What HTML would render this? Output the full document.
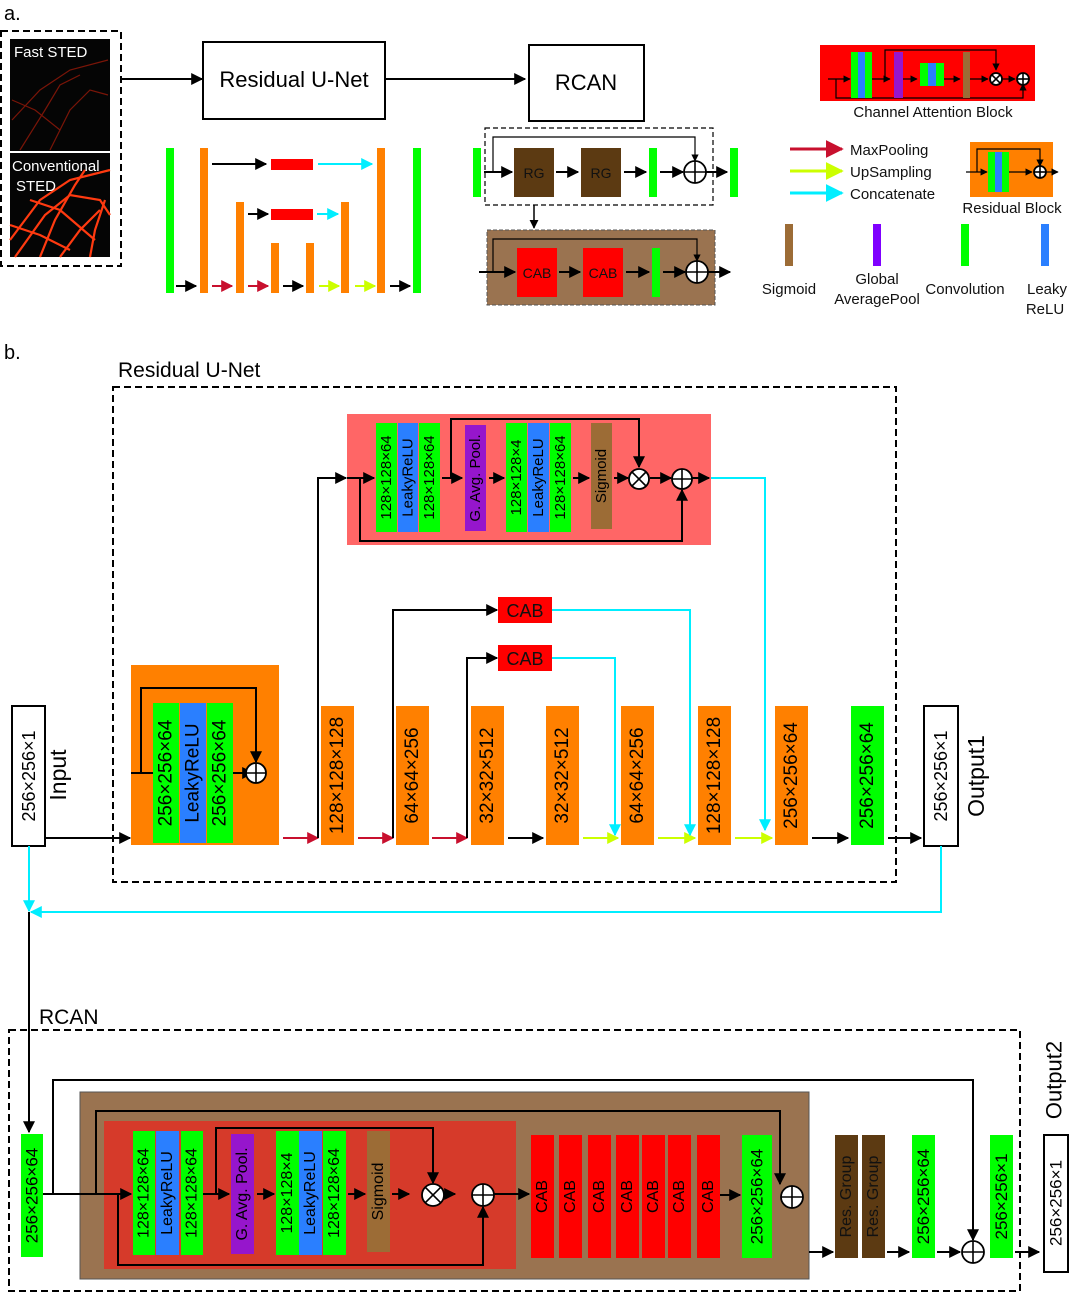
<!DOCTYPE html>
<html><head><meta charset="utf-8"><style>
html,body{margin:0;padding:0;background:#fff;}
svg{display:block;font-family:"Liberation Sans",sans-serif;}
</style></head><body>
<svg id="s" width="1069" height="1294" viewBox="0 0 1069 1294" xmlns="http://www.w3.org/2000/svg">
<defs>
<marker id="mk" viewBox="0 0 10 10" refX="9" refY="5" markerWidth="6" markerHeight="6" orient="auto" markerUnits="strokeWidth"><path d="M0,0L10,5L0,10z" fill="#000"/></marker>
<marker id="mr" viewBox="0 0 10 10" refX="9" refY="5" markerWidth="6" markerHeight="6" orient="auto" markerUnits="strokeWidth"><path d="M0,0L10,5L0,10z" fill="#c8102e"/></marker>
<marker id="my" viewBox="0 0 10 10" refX="9" refY="5" markerWidth="6" markerHeight="6" orient="auto" markerUnits="strokeWidth"><path d="M0,0L10,5L0,10z" fill="#ccff00"/></marker>
<marker id="mc" viewBox="0 0 10 10" refX="9" refY="5" markerWidth="6" markerHeight="6" orient="auto" markerUnits="strokeWidth"><path d="M0,0L10,5L0,10z" fill="#00eeff"/></marker>
</defs>
</svg>
<script>
const S=document.getElementById('s');
const NS='http://www.w3.org/2000/svg';
const COL={k:'#000',r:'#c8102e',y:'#ccff00',c:'#00eeff'};
const G='#00ff00',B='#2a7fff',O='#ff8000',R='#ff0000',P='#9616cc',SG='#9c6c36',BR='#5c3a12',TAN='#9a7350';
function mk(tag,attrs,name){const e=document.createElementNS(NS,tag);for(const k in attrs)e.setAttribute(k,attrs[k]);


S.appendChild(e);return e;}
function rect(x,y,w,h,fill,name,stroke,sw,dash){const a={x:x,y:y,width:w,height:h,fill:fill};if(stroke){a.stroke=stroke;a['stroke-width']=sw||1;}if(dash)a['stroke-dasharray']=dash;return mk('rect',a,name);}
function txt(x,y,s,size,name,fill,anchor){const e=mk('text',{x:x,y:y,'font-size':size,fill:fill||'#000','text-anchor':anchor||'start'},name);e.textContent=s;return e;}
function vtxt(cx,cy,s,size,name,fill){const e=mk('text',{x:0,y:0,'font-size':size,fill:fill||'#000','text-anchor':'middle','dominant-baseline':'central',transform:'translate('+cx+','+cy+') rotate(-90)'},name);e.textContent=s;return e;}
function ln(pts,c,arrow,name,w){const a={points:pts.map(p=>p.join(',')).join(' '),fill:'none',stroke:COL[c],'stroke-width':w||2};if(arrow)a['marker-end']='url(#m'+c+')';return mk('polyline',a,name);}
function circ(cx,cy,r,type,name){mk('circle',{cx:cx,cy:cy,r:r,fill:'#fff',stroke:'#000','stroke-width':1.8},name);
 if(type==='plus'){mk('line',{x1:cx-r,y1:cy,x2:cx+r,y2:cy,stroke:'#000','stroke-width':1.6},name+'-h');mk('line',{x1:cx,y1:cy-r,x2:cx,y2:cy+r,stroke:'#000','stroke-width':1.6},name+'-v');}
 else{const d=r*0.7;mk('line',{x1:cx-d,y1:cy-d,x2:cx+d,y2:cy+d,stroke:'#000','stroke-width':1.6},name+'-d1');mk('line',{x1:cx-d,y1:cy+d,x2:cx+d,y2:cy-d,stroke:'#000','stroke-width':1.6},name+'-d2');}}
function bar(x,y,w,h,fill,label,size,name,tc){rect(x,y,w,h,fill,name);if(label)vtxt(x+w/2,y+h/2,label,size,name+'-label',tc);}

/* ===== Part a ===== */
txt(4,20,'a.',20,'panel-a-label');
rect(1,31,120,235,'none','input-images-box','#000',2,'7,4');
rect(10,39,100,112,'#050505','fast-sted-image');
rect(10,153,100,104,'#050505','conventional-sted-image');
const strands1=[[[12,120],[40,90],[70,70],[108,60]],[[20,150],[45,110],[60,85],[80,75]],[[50,150],[70,110],[90,90],[108,95]],[[12,100],[35,110],[60,130]]];
strands1.forEach((p,i)=>ln(p,'r',false,'fast-sted-strand',1.2).setAttribute('stroke','#7a1508'));
const strands2=[[[10,240],[40,200],[70,180],[110,170]],[[15,257],[45,215],[70,195],[100,200],[110,215]],[[40,257],[55,220],[75,185],[85,170]],[[60,257],[80,230],[100,210]],[[10,225],[40,235],[70,250]],[[90,257],[95,230],[105,200]],[[30,200],[60,210],[95,240]]];
strands2.forEach(p=>ln(p,'r',false,'conventional-sted-strand',2.2).setAttribute('stroke','#ff3a10'));
txt(14,57,'Fast STED',15,'fast-sted-title','#fff');
txt(12,171,'Conventional',15,'conventional-title','#fff');
txt(16,191,'STED',15,'sted-title','#fff');
ln([[121,79],[202,79]],'k',true,'arrow-to-unet');
rect(203,42,182,77,'#fff','residual-unet-box','#000',2);
txt(294,87,'Residual U-Net',22,'residual-unet-title','#000','middle');
ln([[385,79],[525,79]],'k',true,'arrow-to-rcan');
rect(529,45,115,76,'#fff','rcan-box','#000',2);
txt(586,90,'RCAN',22,'rcan-title','#000','middle');
/* mini unet */
bar(166,148,8,145,G,null,0,'mini-conv-in');
bar(200,148,8,145,O,null,0,'mini-enc-1');
bar(236,202,8,91,O,null,0,'mini-enc-2');
bar(271,243,8,50,O,null,0,'mini-enc-3');
bar(306,243,8,50,O,null,0,'mini-dec-3');
bar(341,202,8,91,O,null,0,'mini-dec-2');
bar(377,148,8,145,O,null,0,'mini-dec-1');
bar(413,148,8,145,G,null,0,'mini-conv-out');
rect(271,159,42,11,R,'mini-cab-1');rect(271,209,42,11,R,'mini-cab-2');
ln([[212,164],[266,164]],'k',true,'mini-skip-1');ln([[318,164],[372,164]],'c',true,'mini-concat-1');
ln([[248,214],[268,214]],'k',true,'mini-skip-2');ln([[317,214],[338,214]],'c',true,'mini-concat-2');
[[176,196,'k'],[212,232,'r'],[248,268,'r'],[283,303,'k'],[319,339,'y'],[355,375,'y'],[390,410,'k']].forEach(a=>ln([[a[0],286],[a[1],286]],a[2],true,'mini-flow-arrow'));
/* mini rcan */
bar(473,148,8,49,G,null,0,'mini-rcan-conv-in');
rect(485,128,228,77,'none','residual-group-box','#000',1.2,'5,3');
bar(514,148,40,49,BR,'',0,'rg-1');txt(534,178,'RG',14,'rg-1-label','#111','middle');
bar(581,148,40,49,BR,'',0,'rg-2');txt(601,178,'RG',14,'rg-2-label','#111','middle');
bar(649,148,8,49,G,null,0,'rg-conv');
bar(730,148,8,49,G,null,0,'rcan-conv-out');
ln([[493,172],[493,137],[695,137],[695,161]],'k',true,'rg-skip',1.2);
ln([[484,172],[512,172]],'k',true,'a');ln([[556,172],[578,172]],'k',true,'a');ln([[624,172],[646,172]],'k',true,'a');ln([[660,172],[683,172]],'k',true,'a');ln([[706,172],[727,172]],'k',true,'a');
circ(695,172,11,'plus','rg-sum');
ln([[534,205],[534,228]],'k',true,'rg-expand-arrow',1.5);
rect(487,230,228,75,TAN,'cab-group-box','#555',1,'4,2');
rect(517,248,40,49,R,'cab-1');txt(537,278,'CAB',14,'cab-1-label','#111','middle');
rect(583,248,40,49,R,'cab-2');txt(603,278,'CAB',14,'cab-2-label','#111','middle');
bar(652,248,8,49,G,null,0,'cab-group-conv');
ln([[493,272],[493,239],[697,239],[697,261]],'k',true,'cab-group-skip',1.2);
ln([[479,272],[515,272]],'k',true,'a');ln([[559,272],[580,272]],'k',true,'a');ln([[626,272],[649,272]],'k',true,'a');ln([[663,272],[685,272]],'k',true,'a');ln([[708,272],[730,272]],'k',true,'a');
circ(697,272,11,'plus','cab-group-sum');
/* channel attention mini */
rect(820,45,215,56,R,'channel-attention-block');
ln([[828,79],[850,79]],'k',true,'a',1.2);ln([[836,79],[836,98],[1023,98],[1023,84]],'k',true,'a',1.2);
rect(851,52,7,46,G,'ca-conv');rect(858,52,7,46,B,'ca-relu');rect(865,52,7,46,G,'ca-conv2');
ln([[872,79],[890,79]],'k',true,'a',1.2);ln([[885,79],[885,50],[996,50],[996,70]],'k',true,'a',1.2);
rect(894,52,9,46,P,'ca-gap');ln([[903,79],[917,79]],'k',true,'a',1.2);
rect(920,63,8,23,G,'ca-c1');rect(928,63,8,23,B,'ca-r');rect(936,63,8,23,G,'ca-c2');
ln([[944,79],[960,79]],'k',true,'a',1.2);rect(963,52,7,46,SG,'ca-sig');ln([[970,79],[988,79]],'k',true,'a',1.2);
circ(996,79,6,'times','ca-mul');ln([[1002,79],[1015,79]],'k',true,'a',1.2);circ(1023,79,6,'plus','ca-add');
txt(933,117,'Channel Attention Block',15,'channel-attention-title','#111','middle');
/* legend arrows */
ln([[790,149],[842,149]],'r',true,'legend-maxpool-arrow',3);txt(850,155,'MaxPooling',15,'legend-maxpool-label','#111');
ln([[790,171],[842,171]],'y',true,'legend-upsampling-arrow',3);txt(850,177,'UpSampling',15,'legend-upsampling-label','#111');
ln([[790,193],[842,193]],'c',true,'legend-concat-arrow',3);txt(850,199,'Concatenate',15,'legend-concat-label','#111');
rect(970,142,83,55,O,'residual-block-legend');
ln([[966,172],[987,172]],'k',true,'a',1.2);ln([[977,172],[977,149],[1040,149],[1040,166]],'k',true,'a',1.2);
rect(988,152,7,40,G,'rb-c1');rect(995,152,7,40,B,'rb-r');rect(1002,152,7,40,G,'rb-c2');
ln([[1009,172],[1032,172]],'k',true,'a',1.2);circ(1040,172,6,'plus','rb-add');ln([[1046,172],[1058,172]],'k',true,'a',1.2);
txt(1012,213,'Residual Block',15,'residual-block-title','#111','middle');
rect(785,224,8,42,SG,'legend-sigmoid-swatch');rect(873,224,8,42,'#7f00ff','legend-gap-swatch');rect(961,224,8,42,G,'legend-conv-swatch');rect(1041,224,8,42,B,'legend-relu-swatch');
txt(789,294,'Sigmoid',15,'legend-sigmoid-label','#111','middle');
txt(877,284,'Global',15,'legend-gap-label','#111','middle');txt(877,304,'AveragePool',15,'legend-gap-label2','#111','middle');
txt(965,294,'Convolution',15,'legend-conv-label','#111','middle');
txt(1047,294,'Leaky',15,'legend-relu-label','#111','middle');txt(1045,314,'ReLU',15,'legend-relu-label2','#111','middle');

/* ===== Part b: Residual U-Net ===== */
txt(4,359,'b.',20,'panel-b-label');
txt(118,377,'Residual U-Net',21,'residual-unet-heading');
rect(113,387,783,495,'none','residual-unet-frame','#000',2,'7,4');
rect(12,706,33,140,'#fff','input-box','#000',2);vtxt(29,776,'256×256×1',18,'input-size');
vtxt(58,775,'Input',23,'input-title');
ln([[45,838],[130,838]],'k',true,'input-arrow');
rect(131,665,148,180,O,'residual-block');
bar(153,703,26,140,G,'256×256×64',19,'rb-conv-1');
bar(180,703,26,140,B,'LeakyReLU',19,'rb-relu');
bar(207,703,26,140,G,'256×256×64',19,'rb-conv-2');
ln([[131,773],[153,773]],'k',false,'rb-in');
ln([[141,773],[141,688],[256,688],[256,762]],'k',true,'rb-skip');
ln([[233,773],[253,773]],'k',true,'rb-out');circ(256,773,10,'plus','rb-sum');
const unetLabels=['128×128×128','64×64×256','32×32×512','32×32×512','64×64×256','128×128×128','256×256×64'];
const unetX=[321,396,471,546,621,698,775];
unetLabels.forEach((l,i)=>bar(unetX[i],706,33,139,O,l,19,'unet-block-'+(i+1)));
bar(851,706,33,139,G,'256×256×64',19,'unet-final-conv');
ln([[283,838],[318,838]],'r',true,'maxpool-1');ln([[358,838],[393,838]],'r',true,'maxpool-2');ln([[432,838],[467,838]],'r',true,'maxpool-3');
ln([[508,838],[543,838]],'k',true,'bottleneck-arrow');
ln([[583,838],[618,838]],'y',true,'upsample-1');ln([[658,838],[695,838]],'y',true,'upsample-2');ln([[735,838],[772,838]],'y',true,'upsample-3');
ln([[812,838],[848,838]],'k',true,'to-final-conv');ln([[888,838],[921,838]],'k',true,'to-output1');
ln([[318,838],[318,478],[346,478]],'k',true,'skip-1');
ln([[393,838],[393,610],[497,610]],'k',true,'skip-2');
ln([[467,838],[467,658],[497,658]],'k',true,'skip-3');
rect(498,597,54,26,R,'skip-cab-2');txt(525,617,'CAB',18,'skip-cab-2-label','#111','middle');
rect(498,645,54,26,R,'skip-cab-3');txt(525,665,'CAB',18,'skip-cab-3-label','#111','middle');
ln([[552,610],[690,610],[690,835]],'c',true,'concat-2');
ln([[552,658],[615,658],[615,835]],'c',true,'concat-3');
ln([[711,478],[765,478],[765,830]],'c',true,'concat-1');
rect(347,414,364,131,'#ff6666','skip-cab-1');
bar(376,423,21,109,G,'128×128×64',15,'cab1-conv-1');bar(398,423,20,109,B,'LeakyReLU',15,'cab1-relu');bar(419,423,21,109,G,'128×128×64',15,'cab1-conv-2');
bar(465,425,21,106,P,'G. Avg. Pool.',15,'cab1-gap');
bar(506,423,21,109,G,'128×128×4',15,'cab1-conv-3');bar(528,423,21,109,B,'LeakyReLU',15,'cab1-relu-2');bar(550,423,21,109,G,'128×128×64',15,'cab1-conv-4');
bar(591,423,21,106,SG,'Sigmoid',15,'cab1-sigmoid');
ln([[347,478],[374,478]],'k',true,'a');ln([[442,478],[462,478]],'k',true,'a');ln([[489,478],[504,478]],'k',true,'a');ln([[573,478],[589,478]],'k',true,'a');ln([[614,478],[628,478]],'k',true,'a');ln([[650,478],[671,478]],'k',true,'a');ln([[692,478],[709,478]],'k',true,'a');
ln([[451,478],[451,419],[639,419],[639,467]],'k',true,'cab1-attn-skip');
ln([[360,478],[360,541],[682,541],[682,490]],'k',true,'cab1-res-skip');
circ(639,479,10,'times','cab1-mul');circ(682,479,10,'plus','cab1-add');
rect(924,706,34,140,'#fff','output1-box','#000',2);vtxt(941,776,'256×256×1',18,'output1-size');
vtxt(976,776,'Output1',23,'output1-title');
ln([[29,846],[29,911]],'c',true,'input-to-rcan');
ln([[941,846],[941,912],[31,912]],'c',true,'output1-to-rcan');
ln([[29,912],[29,1132]],'k',true,'rcan-input-arrow');

/* ===== RCAN ===== */
txt(39,1024,'RCAN',21,'rcan-heading');
rect(9,1030,1011,261,'none','rcan-frame','#000',2,'7,4');
bar(21,1134,22,123,G,'256×256×64',17,'rcan-conv-in');
ln([[53,1194],[53,1080],[973,1080],[973,1240]],'k',true,'rcan-long-skip');
rect(80,1092,729,187,TAN,'residual-group','#555',1);
rect(104,1121,412,148,'#d63a2a','rcan-cab-detail');
ln([[43,1194],[131,1194]],'k',true,'rcan-in');
ln([[96,1194],[96,1111],[780,1111],[780,1184]],'k',true,'rg-inner-skip');
bar(133,1131,22,124,G,'128×128×64',16,'rcab-conv-1');bar(156,1131,23,124,B,'LeakyReLU',16,'rcab-relu');bar(181,1131,22,124,G,'128×128×64',16,'rcab-conv-2');
bar(231,1134,23,120,P,'G. Avg. Pool.',16,'rcab-gap');
bar(276,1131,23,124,G,'128×128×4',16,'rcab-conv-3');bar(299,1131,23,124,B,'LeakyReLU',16,'rcab-relu-2');bar(323,1131,23,124,G,'128×128×64',16,'rcab-conv-4');
bar(367,1131,23,121,SG,'Sigmoid',16,'rcab-sigmoid');
ln([[203,1194],[229,1194]],'k',true,'a');ln([[257,1194],[274,1194]],'k',true,'a');ln([[348,1194],[365,1194]],'k',true,'a');ln([[392,1194],[409,1194]],'k',true,'a');ln([[433,1194],[455,1194]],'k',true,'a');ln([[479,1194],[529,1194]],'k',true,'a');
ln([[216,1194],[216,1128],[433,1128],[433,1183]],'k',true,'rcab-attn-skip');
ln([[118,1194],[118,1265],[483,1265],[483,1207]],'k',true,'rcab-res-skip');
circ(433,1195,11,'times','rcab-mul');circ(483,1195,11,'plus','rcab-add');
const cabX=[531,559,588,616,642,668,697];
cabX.forEach((x,i)=>bar(x,1135,23,123,R,'CAB',16,'rcan-cab-'+(i+1)));
bar(742,1135,30,123,G,'256×256×64',17,'rg-conv');
ln([[720,1195],[740,1195]],'k',true,'a');
circ(792,1197,11,'plus','rg-sum');
ln([[809,1252],[833,1252]],'k',true,'a');
bar(835,1135,23,123,BR,'Res. Group',16,'res-group-1','#111');bar(862,1135,23,123,BR,'Res. Group',16,'res-group-2','#111');
ln([[887,1252],[909,1252]],'k',true,'a');
bar(912,1135,23,123,G,'256×256×64',17,'rcan-conv-out');
ln([[937,1252],[960,1252]],'k',true,'a');
circ(973,1252,11,'plus','rcan-sum');
bar(990,1135,23,123,G,'256×256×1',17,'rcan-final-conv');
ln([[1015,1252],[1039,1252]],'k',true,'to-output2');
rect(1044,1135,24,137,'#fff','output2-box','#000',2);vtxt(1056,1203,'256×256×1',17,'output2-size');
vtxt(1054,1080,'Output2',22,'output2-title');
</script>
</body></html>
